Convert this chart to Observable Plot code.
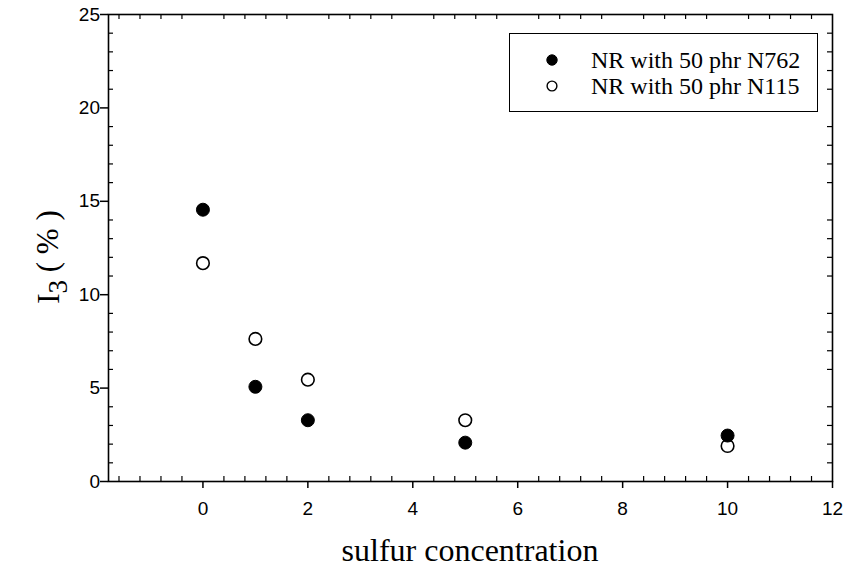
<!DOCTYPE html>
<html>
<head>
<meta charset="utf-8">
<script src="https://cdn.jsdelivr.net/npm/d3@7"></script>
<script src="https://cdn.jsdelivr.net/npm/@observablehq/plot@0.6"></script>
<style>
  body { margin: 0; background: #fff; }
  #chart { position: relative; width: 846px; height: 567px; }
  #chart svg { display: block; }
  .legend {
    position: absolute; left: 509px; top: 33px; width: 309px; height: 79px;
    box-sizing: border-box; border: 1px solid #000; background: #fff;
    font-family: "Liberation Serif", "Times New Roman", serif; font-size: 24px;
  }
  .legend .row { position: absolute; left: 0; height: 26px; line-height: 26px; white-space: nowrap; }
  .legend .row svg { position: absolute; left: 35px; top: 6px; }
  .legend .row span { position: absolute; left: 81px; top: 0; }
</style>
</head>
<body>
<div id="chart"></div>
<script>
// Sulfur loading (phr) and the I3 fraction (%) for the two carbon-black grades
const sulfur = [0, 1, 2, 5, 10];
const i3N762 = [14.55, 5.07, 3.28, 2.08, 2.46];
const i3N115 = [11.69, 7.63, 5.45, 3.28, 1.90];
const seriesNames = ["NR with 50 phr N762", "NR with 50 phr N115"];

// Axis ticks
const xMajor = [0, 2, 4, 6, 8, 10, 12];
const yMajor = [0, 5, 10, 15, 20, 25];
const xMinor = d3.range(-4, 30).filter(i => i % 5 !== 0).map(i => +(i * 0.4).toFixed(1));
const yMinor = d3.range(1, 25).filter(v => v % 5 !== 0);

const W = 846, H = 567;
const M = {top: 14, right: 14, bottom: 86, left: 108};
const PW = W - M.left - M.right, PH = H - M.top - M.bottom;
const minorLen = 5;
const tickFont = 19;

const rows762 = sulfur.map((s, i) => ({s, v: i3N762[i]}));
const rows115 = sulfur.map((s, i) => ({s, v: i3N115[i]}));

const sans = "'Liberation Sans', Arial, Helvetica, sans-serif";
const serif = "'Liberation Serif', 'Times New Roman', serif";

const plot = Plot.plot({
  width: W, height: H,
  marginTop: M.top, marginRight: M.right, marginBottom: M.bottom, marginLeft: M.left,
  style: {fontFamily: sans, fontSize: tickFont + "px", background: "#fff", color: "#000", overflow: "visible"},
  x: {domain: [-1.8, 12], label: null},
  y: {domain: [0, 25], label: null},
  marks: [
    // inward minor ticks on all four sides
    Plot.tickX(xMinor, {x: d => d, insetTop: PH - minorLen, stroke: "#000", strokeWidth: 1.2}),
    Plot.tickX(xMinor, {x: d => d, insetBottom: PH - minorLen, stroke: "#000", strokeWidth: 1.2}),
    Plot.tickY(yMinor, {y: d => d, insetRight: PW - minorLen, stroke: "#000", strokeWidth: 1.2}),
    Plot.tickY(yMinor, {y: d => d, insetLeft: PW - minorLen, stroke: "#000", strokeWidth: 1.2}),
    // outward major ticks with labels on bottom and left
    Plot.axisX({anchor: "bottom", ticks: xMajor, tickSize: 7, tickPadding: 13, strokeWidth: 1.5, label: null, fontSize: tickFont}),
    Plot.axisY({anchor: "left", ticks: yMajor, tickSize: 8, tickPadding: 0.5, strokeWidth: 1.5, label: null, fontSize: tickFont}),
    Plot.frame({stroke: "#000", strokeWidth: 1.6}),
    // data
    Plot.dot(rows115, {x: "s", y: "v", r: 6.3, fill: "#fff", stroke: "#000", strokeWidth: 1.6}),
    Plot.dot(rows762, {x: "s", y: "v", r: 6.5, fill: "#000", stroke: "#000", strokeWidth: 1})
  ]
});

const svg = d3.select(plot);
svg.selectAll('g[aria-label$="tick label"]')
  .attr("font-size", tickFont)
  .style("font-size", tickFont + "px")
  .selectAll("text")
  .style("font-size", tickFont + "px");

// y-axis title with subscript
const yt = svg.append("text")
  .attr("transform", `translate(${59},${257}) rotate(-90)`)
  .attr("text-anchor", "middle")
  .attr("font-family", serif)
  .attr("font-size", 31)
  .attr("fill", "#000");
yt.append("tspan").text("I");
yt.append("tspan").attr("font-size", 27).attr("dy", "0.28em").text("3");
yt.append("tspan").attr("dy", "-0.28em").text(" ( % )");

// x-axis title
svg.append("text")
  .attr("x", M.left + PW / 2)
  .attr("y", 561)
  .attr("text-anchor", "middle")
  .attr("font-family", serif)
  .attr("font-size", 32)
  .attr("fill", "#000")
  .text("sulfur concentration");

const chart = document.getElementById("chart");
chart.appendChild(plot);

// legend box inside the plot area
const legend = document.createElement("div");
legend.className = "legend";
const rowTops = [13, 39];
seriesNames.forEach((name, i) => {
  const row = document.createElement("div");
  row.className = "row";
  row.style.top = rowTops[i] + "px";
  const filled = i === 0;
  row.innerHTML =
    `<svg width="14" height="14"><circle cx="7" cy="7" r="${filled ? 5.2 : 4.9}" fill="${filled ? "#000" : "#fff"}" stroke="#000" stroke-width="${filled ? 1 : 1.4}"/></svg>` +
    `<span>${name}</span>`;
  legend.appendChild(row);
});
chart.appendChild(legend);
</script>
</body>
</html>
